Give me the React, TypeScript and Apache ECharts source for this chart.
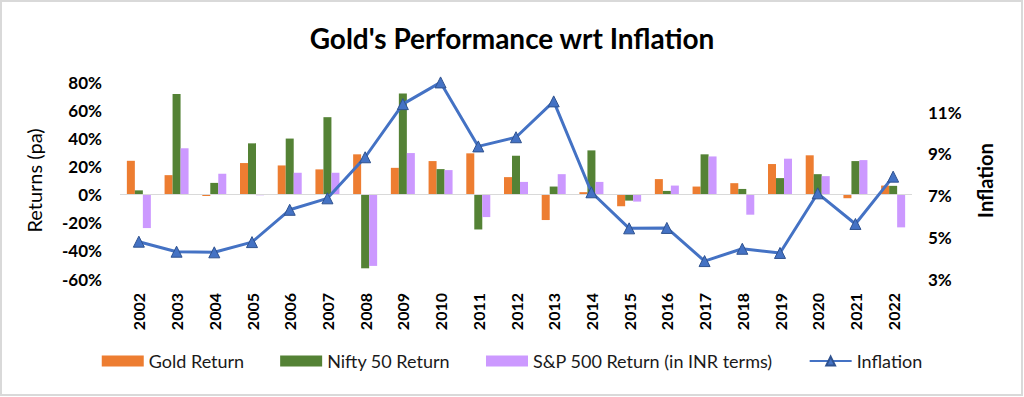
import React, { useEffect, useRef } from "react";
import * as echarts from "echarts";

const years = ["2002","2003","2004","2005","2006","2007","2008","2009","2010","2011","2012","2013","2014","2015","2016","2017","2018","2019","2020","2021","2022"];
const goldReturn = [24, 13.8, -1, 22.4, 20.7, 17.9, 28.6, 19, 23.8, 29.3, 12.4, -18.1, 1.7, -8.3, 11, 5.7, 8.1, 21.7, 27.9, -2.6, 6.4];
const niftyReturn = [3, 71.4, 8.3, 36.4, 39.8, 55, -52.4, 71.9, 18.1, -24.8, 27.6, 5.7, 31.4, -4.3, 2.6, 28.6, 4, 11.7, 14.5, 23.8, 6.2];
const spReturn = [-23.8, 32.9, 14.8, -0.5, 15.5, 15.5, -50.7, 29.5, 17.4, -16, 9, 14.5, 9, -5, 6.4, 27.1, -14.3, 25.5, 13.1, 24.5, -23.3];
const inflation = [4.79, 4.31, 4.28, 4.77, 6.32, 6.87, 8.84, 11.39, 12.43, 9.36, 9.8, 11.52, 7.16, 5.43, 5.45, 3.86, 4.45, 4.25, 7.11, 5.64, 7.91];

const FONT = "Lato, 'Open Sans', sans-serif";

export default function App() {
  const ref = useRef<HTMLDivElement>(null);
  useEffect(() => {
    if (!ref.current) return;
    const chart = echarts.init(ref.current, null, { renderer: "svg" });
    chart.setOption({
      animation: false,
      backgroundColor: "#fff",
      textStyle: { fontFamily: FONT },
      title: {
        text: "Gold's Performance wrt Inflation",
        left: "center",
        top: 19,
        textStyle: { fontFamily: FONT, fontSize: 28, fontWeight: "bold", color: "#000" },
      },
      graphic: [
        {
          type: "rect",
          shape: { x: 1, y: 1, width: 1021, height: 394 },
          style: { fill: "none", stroke: "#D9D9D9", lineWidth: 2 },
          silent: true,
        },
      ],
      legend: {
        bottom: 22,
        left: "center",
        itemWidth: 42,
        itemHeight: 11,
        itemGap: 36,
        textStyle: { fontFamily: FONT, fontSize: 18, color: "#1a1a1a" },
        data: [
          { name: "Gold Return", icon: "rect" },
          { name: "Nifty 50 Return", icon: "rect" },
          { name: "S&P 500 Return (in INR terms)", icon: "rect" },
          { name: "Inflation" },
        ],
      },
      grid: { left: 120, right: 112, top: 82, bottom: 118 },
      xAxis: {
        type: "category",
        data: years,
        axisLine: { show: false },
        axisTick: { show: false },
        axisLabel: { rotate: 90, fontFamily: FONT, fontSize: 16, fontWeight: "bold", color: "#000", margin: 14 },
      },
      yAxis: [
        {
          type: "value",
          min: -60,
          max: 80,
          interval: 20,
          name: "Returns (pa)",
          nameLocation: "middle",
          nameGap: 76,
          nameTextStyle: { fontFamily: FONT, fontSize: 20, color: "#000" },
          axisLine: { show: false },
          axisTick: { show: false },
          splitLine: { show: false },
          axisLabel: { formatter: "{value}%", fontFamily: FONT, fontSize: 17, fontWeight: "bold", color: "#000", margin: 18 },
        },
        {
          type: "value",
          min: 3,
          max: 12.45,
          interval: 2,
          name: "Inflation",
          nameLocation: "middle",
          nameGap: 63,
          nameTextStyle: { fontFamily: FONT, fontSize: 20, fontWeight: "bold", color: "#000" },
          axisLine: { show: false },
          axisTick: { show: false },
          splitLine: { show: false },
          axisLabel: { formatter: "{value}%", fontFamily: FONT, fontSize: 17, fontWeight: "bold", color: "#000", margin: 16, showMaxLabel: false },
        },
      ],
      series: [
        {
          name: "Gold Return",
          type: "bar",
          data: goldReturn,
          barWidth: 8,
          barGap: "0%",
          itemStyle: { color: "#ED7D31" },
          markLine: {
            silent: true,
            symbol: "none",
            label: { show: false },
            lineStyle: { color: "#D9D9D9", width: 1, type: "solid" },
            data: [{ yAxis: 0 }],
          },
        },
        {
          name: "Nifty 50 Return",
          type: "bar",
          data: niftyReturn,
          barWidth: 8,
          barGap: "0%",
          itemStyle: { color: "#548235" },
        },
        {
          name: "S&P 500 Return (in INR terms)",
          type: "bar",
          data: spReturn,
          barWidth: 8,
          barGap: "0%",
          itemStyle: { color: "#CC99FF" },
        },
        {
          name: "Inflation",
          type: "line",
          yAxisIndex: 1,
          data: inflation,
          symbol: "triangle",
          symbolSize: 11,
          lineStyle: { color: "#4472C4", width: 3 },
          itemStyle: { color: "#4472C4", borderColor: "#2F528F", borderWidth: 1 },
          z: 5,
        },
      ],
    });
    return () => chart.dispose();
  }, []);
  return <div ref={ref} style={{ position: "fixed", left: 0, top: 0, width: 1024, height: 397 }} />;
}
